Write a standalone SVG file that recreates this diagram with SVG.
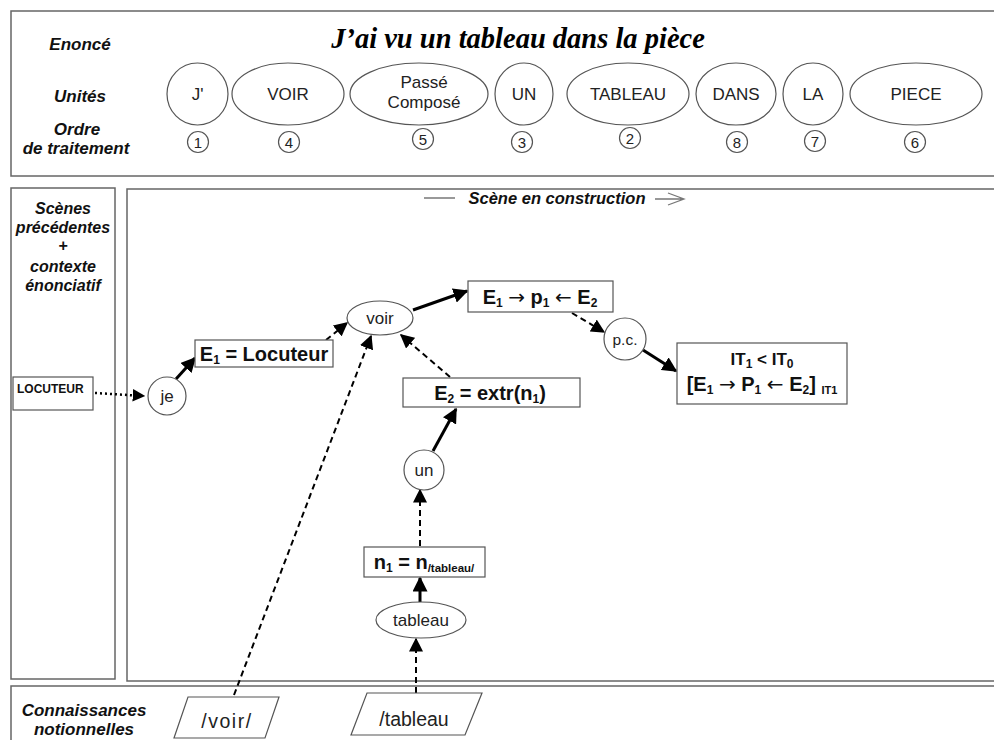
<svg xmlns="http://www.w3.org/2000/svg" width="994" height="740" viewBox="0 0 994 740">
<defs>
<marker id="ah" viewBox="0 0 10 10" refX="9" refY="5" markerWidth="5" markerHeight="5" orient="auto" markerUnits="strokeWidth">
<path d="M0,0 L10,5 L0,10 z" fill="#000"/>
</marker>
<marker id="ah2" viewBox="0 0 10 10" refX="9" refY="5" markerWidth="7" markerHeight="7" orient="auto" markerUnits="strokeWidth">
<path d="M0,0 L10,5 L0,10 z" fill="#000"/>
</marker>
<style>
.frame{fill:#fff;stroke:#666;stroke-width:1.5}
.node{fill:#fff;stroke:#555;stroke-width:1.2}
.lbl{font-family:"Liberation Sans",Arial,sans-serif;font-weight:bold;font-style:italic;font-size:17px;fill:#111;text-anchor:middle}
.lbl2{font-family:"Liberation Sans",Arial,sans-serif;font-weight:bold;font-style:italic;font-size:16px;fill:#111;text-anchor:middle}
.u{font-family:"Liberation Sans",Arial,sans-serif;font-size:17px;fill:#222;text-anchor:middle}
.num{font-family:"Liberation Sans",Arial,sans-serif;font-size:15px;fill:#222;text-anchor:middle}
.b{font-family:"Liberation Sans",Arial,sans-serif;font-weight:bold;font-size:20px;fill:#111;text-anchor:middle}
.s{font-family:"Liberation Sans",Arial,sans-serif;font-size:17px;fill:#222;text-anchor:middle}
.p{font-family:"Liberation Sans",Arial,sans-serif;font-size:19.5px;fill:#222;text-anchor:middle}
.ar{font-family:"DejaVu Sans",sans-serif;font-weight:normal}
.solid{stroke:#000;stroke-width:3;fill:none}
.dash{stroke:#000;stroke-width:2;stroke-dasharray:6,4;fill:none}
.dot{stroke:#000;stroke-width:2.5;stroke-dasharray:2,3;fill:none}
</style>
</defs>
<rect width="994" height="740" fill="#fff"/>
<g id="frames">
<rect class="frame" x="11" y="11" width="990" height="165"/>
<rect class="frame" x="11" y="188" width="104" height="491"/>
<rect class="frame" x="127" y="189" width="875" height="492"/>
<rect class="frame" x="11" y="686" width="990" height="60"/>
</g>
<g id="header-labels">
<text class="lbl" x="80" y="50">Enoncé</text>
<text class="lbl" x="80" y="102">Unités</text>
<text class="lbl" x="77" y="135">Ordre</text>
<text class="lbl" x="76" y="154">de traitement</text>
<text x="518" y="48" font-family="'Liberation Serif','Times New Roman',serif" font-weight="bold" font-style="italic" font-size="28.5" fill="#000" text-anchor="middle">J’ai vu un tableau dans la pièce</text>
</g>
<g id="unit-J"><ellipse class="node" cx="197.5" cy="94" rx="30.5" ry="31"/><text class="u" x="197.5" y="100">J'</text></g>
<g id="unit-VOIR"><ellipse class="node" cx="288" cy="94" rx="56" ry="31"/><text class="u" x="288" y="100">VOIR</text></g>
<g id="unit-PC"><ellipse class="node" cx="419" cy="94" rx="69" ry="31"/><text class="u" x="424" y="88">Passé</text><text class="u" x="424" y="108">Composé</text></g>
<g id="unit-UN"><ellipse class="node" cx="524" cy="94" rx="29" ry="31"/><text class="u" x="524" y="100">UN</text></g>
<g id="unit-TABLEAU"><ellipse class="node" cx="628" cy="94" rx="61" ry="31"/><text class="u" x="628" y="100">TABLEAU</text></g>
<g id="unit-DANS"><ellipse class="node" cx="736" cy="94" rx="40" ry="31"/><text class="u" x="736" y="100">DANS</text></g>
<g id="unit-LA"><ellipse class="node" cx="813" cy="94" rx="30" ry="31"/><text class="u" x="813" y="100">LA</text></g>
<g id="unit-PIECE"><ellipse class="node" cx="916" cy="94" rx="66" ry="31"/><text class="u" x="916" y="100">PIECE</text></g>
<g id="order">
<circle class="node" cx="198" cy="142" r="10.5"/><text class="num" x="198" y="147.5">1</text>
<circle class="node" cx="289" cy="142" r="10.5"/><text class="num" x="289" y="147.5">4</text>
<circle class="node" cx="423" cy="139" r="10.5"/><text class="num" x="423" y="144.5">5</text>
<circle class="node" cx="522" cy="142" r="10.5"/><text class="num" x="522" y="147.5">3</text>
<circle class="node" cx="630" cy="138" r="10.5"/><text class="num" x="630" y="143.5">2</text>
<circle class="node" cx="737" cy="142" r="10.5"/><text class="num" x="737" y="147.5">8</text>
<circle class="node" cx="815" cy="141" r="10.5"/><text class="num" x="815" y="146.5">7</text>
<circle class="node" cx="915" cy="142" r="10.5"/><text class="num" x="915" y="147.5">6</text>
</g>
<g id="scene-title">
<line x1="424" y1="198" x2="455" y2="198" stroke="#777" stroke-width="1.5"/>
<text x="557" y="204" font-family="'Liberation Sans',Arial,sans-serif" font-weight="bold" font-style="italic" font-size="16.5" fill="#111" text-anchor="middle">Scène en construction</text>
<path d="M655,199 L684,199 M668,193 L684,199 L668,205" fill="none" stroke="#777" stroke-width="1.3"/>
</g>
<g id="left-labels">
<text class="lbl2" x="63" y="214">Scènes</text>
<text class="lbl2" x="63" y="233">précédentes</text>
<text class="lbl2" x="63" y="251">+</text>
<text class="lbl2" x="63" y="272">contexte</text>
<text class="lbl2" x="63" y="291">énonciatif</text>
<text class="lbl" x="84" y="716">Connaissances</text>
<text class="lbl" x="84" y="735">notionnelles</text>
</g>
<g id="connectors">
<line class="dot" x1="95" y1="393" x2="144" y2="396" marker-end="url(#ah)"/>
<line class="solid" x1="176" y1="379" x2="195" y2="358" marker-end="url(#ah)"/>
<line class="dash" x1="326" y1="340" x2="347" y2="323" marker-end="url(#ah2)"/>
<line class="solid" x1="413" y1="310" x2="467" y2="291" marker-end="url(#ah)"/>
<line class="dash" x1="572" y1="313" x2="604" y2="332" marker-end="url(#ah2)"/>
<line class="solid" x1="643" y1="350" x2="676" y2="371" marker-end="url(#ah)"/>
<line class="dash" x1="450" y1="377" x2="401" y2="335" marker-end="url(#ah2)"/>
<line class="dash" x1="234" y1="695" x2="371" y2="336" marker-end="url(#ah2)"/>
<line class="solid" x1="433" y1="451" x2="456" y2="409" marker-end="url(#ah)"/>
<line class="dash" x1="420" y1="546" x2="420" y2="490" marker-end="url(#ah2)"/>
<line class="solid" x1="420" y1="602" x2="420" y2="578" marker-end="url(#ah)"/>
<line class="dash" x1="416" y1="693" x2="416" y2="639" marker-end="url(#ah2)"/>
</g>
<g id="locuteur"><rect class="node" x="13" y="377" width="80" height="33"/><text x="17" y="393" font-family="'Liberation Sans',Arial,sans-serif" font-weight="bold" font-size="12" fill="#111">LOCUTEUR</text></g>
<g id="je"><circle class="node" cx="167" cy="396" r="19"/><text class="s" x="167" y="402">je</text></g>
<g id="e1-loc"><rect class="node" x="195" y="340" width="138" height="27"/><text class="b" x="264" y="361">E<tspan font-size="12" dy="3">1</tspan><tspan dy="-3"> = Locuteur</tspan></text></g>
<g id="voir"><ellipse class="node" cx="380" cy="318" rx="33" ry="17"/><text class="s" x="380" y="324">voir</text></g>
<g id="rel"><rect class="node" x="468" y="281" width="145" height="31"/><text class="b" x="540" y="304">E<tspan font-size="12" dy="3">1</tspan><tspan dy="-3"> </tspan><tspan class="ar">→</tspan> p<tspan font-size="12" dy="3">1</tspan><tspan dy="-3"> </tspan><tspan class="ar">←</tspan> E<tspan font-size="12" dy="3">2</tspan></text></g>
<g id="pc"><circle class="node" cx="625" cy="339" r="21"/><text x="625" y="345" font-family="'Liberation Sans',Arial,sans-serif" font-size="15.5" fill="#222" text-anchor="middle">p.c.</text></g>
<g id="it"><rect class="node" x="677" y="343" width="170" height="61"/>
<text x="762" y="365" font-family="'Liberation Sans',Arial,sans-serif" font-weight="bold" font-size="17" fill="#111" text-anchor="middle">IT<tspan font-size="12" dy="3">1</tspan><tspan dy="-3"> &lt; IT</tspan><tspan font-size="12" dy="3">0</tspan></text>
<text class="b" x="762" y="391">[E<tspan font-size="12" dy="3">1</tspan><tspan dy="-3"> </tspan><tspan class="ar">→</tspan> P<tspan font-size="12" dy="3">1</tspan><tspan dy="-3"> </tspan><tspan class="ar">←</tspan> E<tspan font-size="12" dy="3">2</tspan><tspan dy="-3">] </tspan><tspan font-size="11" dy="3">IT1</tspan></text></g>
<g id="e2"><rect class="node" x="403" y="378" width="177" height="29"/><text class="b" x="490" y="400">E<tspan font-size="12" dy="3">2</tspan><tspan dy="-3"> = extr(n</tspan><tspan font-size="12" dy="3">1</tspan><tspan dy="-3">)</tspan></text></g>
<g id="un"><circle class="node" cx="424" cy="470" r="20"/><text class="s" x="424" y="476">un</text></g>
<g id="n1"><rect class="node" x="364" y="547" width="121" height="30"/><text class="b" x="424" y="569">n<tspan font-size="12" dy="3">1</tspan><tspan dy="-3"> = n</tspan><tspan font-size="11.5" dy="3">/tableau/</tspan></text></g>
<g id="tableau"><ellipse class="node" cx="421" cy="620" rx="45" ry="18"/><text class="s" x="421" y="626">tableau</text></g>
<g id="notion-voir"><polygon class="node" points="188,697 279,697 265,738 174,738"/><text class="p" x="227" y="728" letter-spacing="1.5">/voir/</text></g>
<g id="notion-tableau"><polygon class="node" points="367,693 482,693 465,735 351,735"/><text class="p" x="414" y="726">/tableau</text></g>
</svg>
